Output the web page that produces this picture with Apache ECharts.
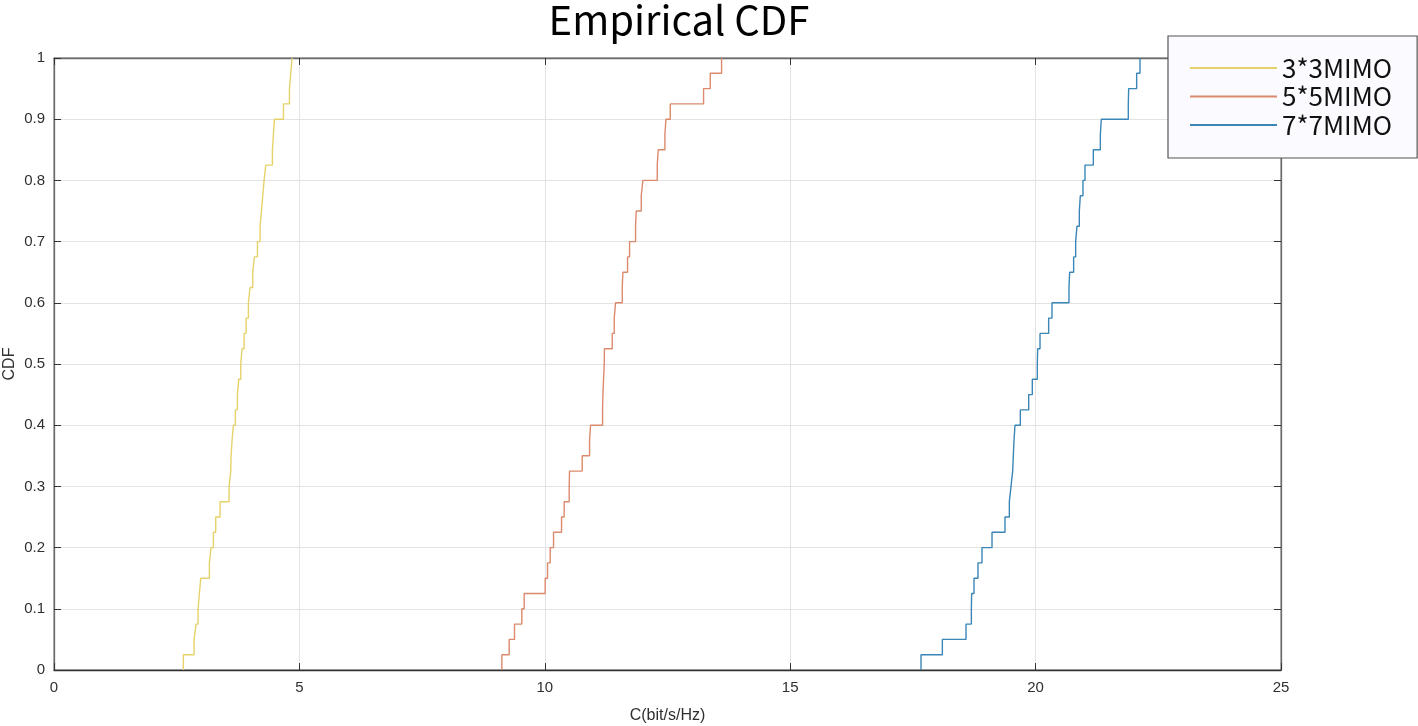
<!DOCTYPE html>
<html>
<head>
<meta charset="utf-8">
<script src="https://cdn.jsdelivr.net/npm/echarts@6/dist/echarts.min.js"></script>
<style>
html,body{margin:0;padding:0;background:#fff;}
#chart{width:1418px;height:726px;}
</style>
</head>
<body>
<div id="chart"></div>
<script>
// Sorted samples (C in bit/s/Hz) read from the empirical CDF steps (40 samples each)
const mimo3x3 = [2.636,2.854,2.894,2.935,2.962,2.990,3.166,3.200,3.248,3.295,
  3.384,3.567,3.601,3.608,3.628,3.655,3.696,3.737,3.764,3.805,
  3.832,3.873,3.914,3.961,3.995,4.050,4.083,4.145,4.199,4.226,
  4.253,4.281,4.314,4.450,4.471,4.491,4.675,4.797,4.824,4.851];
const mimo5x5 = [9.125,9.274,9.383,9.532,9.580,10.008,10.056,10.110,10.178,10.341,
  10.395,10.497,10.504,10.762,10.912,10.932,11.177,11.184,11.197,11.211,
  11.215,11.374,11.415,11.442,11.578,11.591,11.686,11.727,11.849,11.863,
  11.965,11.999,12.291,12.311,12.447,12.468,12.556,13.235,13.371,13.602];
const mimo7x7 = [17.665,18.100,18.582,18.691,18.697,18.745,18.826,18.908,19.112,19.376,
  19.465,19.499,19.533,19.546,19.560,19.580,19.689,19.859,19.933,20.035,
  20.042,20.090,20.266,20.334,20.680,20.694,20.775,20.816,20.843,20.891,
  20.911,20.965,21.006,21.176,21.319,21.339,21.889,21.896,22.059,22.127];
const seriesNames = ['3*3MIMO','5*5MIMO','7*7MIMO'];
const xTicks = [0,5,10,15,20,25];
const yTicks = [0,0.1,0.2,0.3,0.4,0.5,0.6,0.7,0.8,0.9,1];

const colors = ['#e6d26a','#dc8a6e','#3a86b6'];

function ecdf(samples){
  const n = samples.length;
  const pts = [[samples[0],0]];
  samples.forEach((v,i)=>pts.push([v,(i+1)/n]));
  return pts;
}

const allData = [mimo3x3, mimo5x5, mimo7x7];
const axisColor = '#6a6a6a';
const labelFont = {fontFamily:'Liberation Sans, Arial, sans-serif', fontSize:15, color:'#303030'};

const series = allData.map((d,i)=>({
  name:seriesNames[i], type:'line', step:'end', symbol:'none', showSymbol:false,
  xAxisIndex:0, yAxisIndex:0,
  data:ecdf(d),
  lineStyle:{color:colors[i], width:1.4},
  itemStyle:{color:colors[i]},
  z:3
}));
// invisible helper series so the box axes (top / right) render their ticks
series.push({
  name:'_box', type:'line', symbol:'none', xAxisIndex:1, yAxisIndex:1,
  data:[[xTicks[0], yTicks[0]]], lineStyle:{opacity:0}, silent:true
});

const chart = echarts.init(document.getElementById('chart'), null, {renderer:'canvas'});
chart.setOption({
  animation:false,
  backgroundColor:'#ffffff',
  title:{
    text:'Empirical CDF', left:679, top:0, textAlign:'center', padding:0,
    textStyle:{fontFamily:'Noto Sans CJK SC, Noto Sans, sans-serif', fontSize:40, fontWeight:'normal', color:'#000'}
  },
  legend:{
    orient:'vertical', left:1168, top:36,
    data:seriesNames.map(n=>({name:n, icon:'rect'})),
    itemWidth:87, itemHeight:2.2, itemGap:2.5,
    padding:[19,25,20,22],
    backgroundColor:'#fbfaff', borderColor:'#555', borderWidth:1.2,
    textStyle:{fontFamily:'Noto Sans CJK SC, Noto Sans, sans-serif', fontSize:26, lineHeight:26, color:'#111'}
  },
  grid:{left:54, right:137, top:58, bottom:56, show:true, borderColor:axisColor, borderWidth:1, outerBoundsMode:'none', containLabel:false},
  xAxis:[{
    type:'value', min:xTicks[0], max:xTicks[xTicks.length-1], interval:5,
    name:'C(bit/s/Hz)', nameLocation:'middle', nameGap:38, nameMoveOverlap:false,
    nameTextStyle:{fontFamily:'Liberation Sans, Arial, sans-serif', fontSize:16, color:'#303030'},
    axisLine:{show:true, onZero:false, lineStyle:{color:'#333', width:1.3}},
    axisTick:{show:true, inside:true, length:7, lineStyle:{color:'#333'}},
    axisLabel:Object.assign({margin:10}, labelFont),
    splitLine:{show:true, lineStyle:{color:'#e3e3e3', width:1}}
  },{
    type:'value', position:'top', min:xTicks[0], max:xTicks[xTicks.length-1], interval:5,
    axisLine:{show:true, onZero:false, lineStyle:{color:axisColor, width:1.3}},
    axisTick:{show:true, inside:true, length:7, lineStyle:{color:'#333'}},
    axisLabel:{show:false}, splitLine:{show:false}
  }],
  yAxis:[{
    type:'value', min:0, max:1, interval:0.1,
    name:'CDF', nameLocation:'middle', nameGap:36, nameRotate:90, nameMoveOverlap:false,
    nameTextStyle:{fontFamily:'Liberation Sans, Arial, sans-serif', fontSize:16, color:'#303030'},
    axisLine:{show:true, onZero:false, lineStyle:{color:axisColor, width:1.3}},
    axisTick:{show:true, inside:true, length:7, lineStyle:{color:'#333'}},
    axisLabel:Object.assign({margin:9, formatter:v=>String(Math.round(v*10)/10)}, labelFont),
    splitLine:{show:true, lineStyle:{color:'#e3e3e3', width:1}}
  },{
    type:'value', position:'right', min:0, max:1, interval:0.1,
    axisLine:{show:true, onZero:false, lineStyle:{color:axisColor, width:1.3}},
    axisTick:{show:true, inside:true, length:7, lineStyle:{color:'#333'}},
    axisLabel:{show:false}, splitLine:{show:false}
  }],
  series: series
});
</script>
</body>
</html>
